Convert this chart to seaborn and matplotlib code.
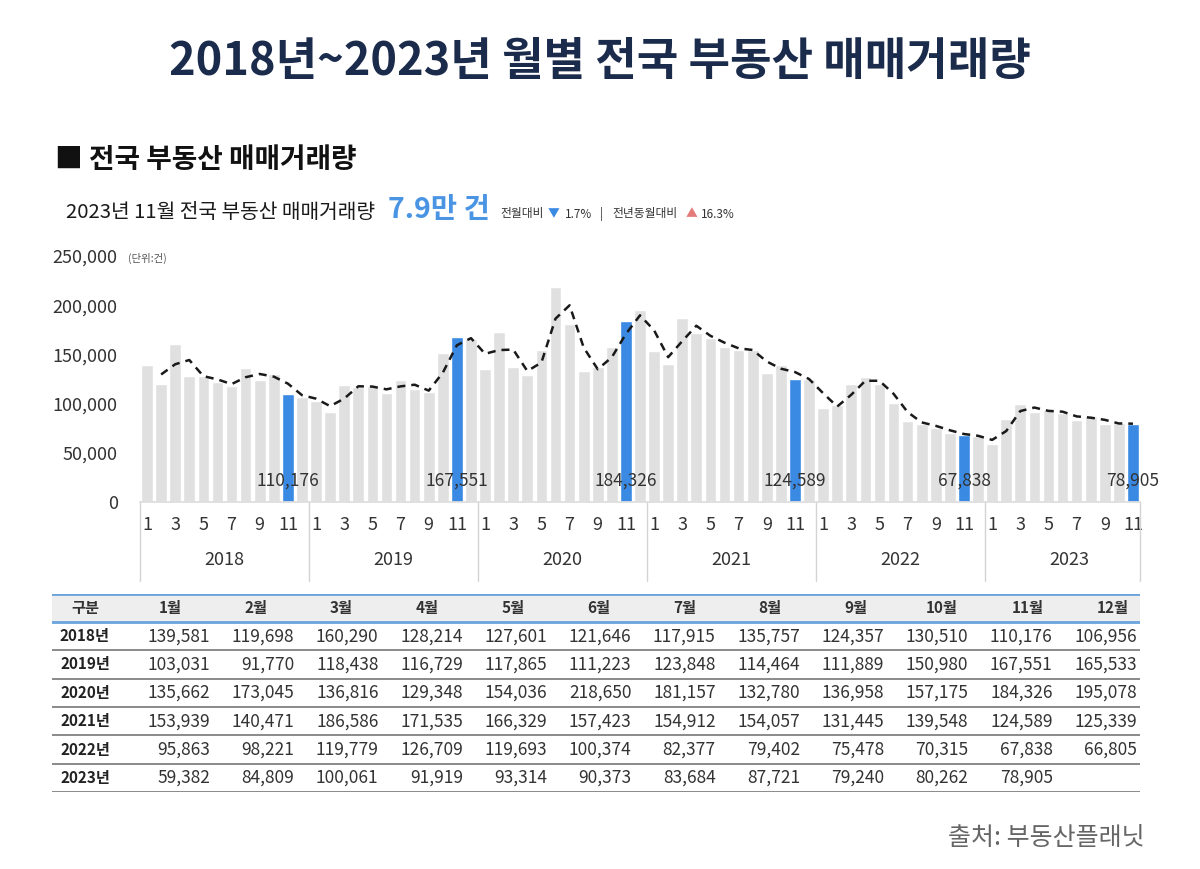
import numpy as np
import pandas as pd
import matplotlib.pyplot as plt
import matplotlib.transforms as mtransforms
import seaborn as sns

# monthly nationwide real-estate transactions (건)
years = [2018, 2019, 2020, 2021, 2022, 2023]
month_labels = [f"{m}월" for m in range(1, 13)]
deals_2018 = [139581, 119698, 160290, 128214, 127601, 121646, 117915, 135757, 124357, 130510, 110176, 106956]
deals_2019 = [103031, 91770, 118438, 116729, 117865, 111223, 123848, 114464, 111889, 150980, 167551, 165533]
deals_2020 = [135662, 173045, 136816, 129348, 154036, 218650, 181157, 132780, 136958, 157175, 184326, 195078]
deals_2021 = [153939, 140471, 186586, 171535, 166329, 157423, 154912, 154057, 131445, 139548, 124589, 125339]
deals_2022 = [95863, 98221, 119779, 126709, 119693, 100374, 82377, 79402, 75478, 70315, 67838, 66805]
deals_2023 = [59382, 84809, 100061, 91919, 93314, 90373, 83684, 87721, 79240, 80262, 78905]
all_years = [deals_2018, deals_2019, deals_2020, deals_2021, deals_2022, deals_2023]

# dashed trend line, in thousands, Feb 2018 .. Nov 2023
trend_k = [129.6, 140.0, 144.3, 127.9, 124.6, 119.8, 126.8, 130.1, 127.4, 120.3, 108.6,
           105.0, 97.4, 105.1, 117.6, 117.3, 114.5, 117.5, 119.2, 113.2, 131.4, 159.3, 166.5,
           150.6, 154.4, 154.9, 133.1, 141.7, 186.3, 199.9, 157.0, 134.9, 147.1, 170.8, 189.7,
           174.5, 147.2, 163.5, 179.1, 168.9, 161.9, 156.2, 154.5, 142.8, 135.5, 132.1, 125.0,
           110.6, 97.0, 109.0, 123.2, 123.2, 110.0, 91.4, 80.9, 77.4, 72.9, 69.1, 67.3,
           63.1, 72.1, 92.4, 96.0, 92.6, 91.8, 87.0, 85.7, 83.5, 79.8, 79.6]

GRAY = "#e0e0e0"
BLUE = "#3a89e3"
NAVY = "#1b2b4b"
TXT = "#333333"

rows = []
for y, vals in zip(years, all_years):
    for m, v in enumerate(vals, start=1):
        rows.append({"year": y, "month": m, "value": v, "kind": "nov" if m == 11 else "other"})
df = pd.DataFrame(rows)
df["idx"] = np.arange(len(df))

sns.set_theme(style="white")
plt.rcParams["font.family"] = ["Noto Sans CJK KR", "DejaVu Sans"]

W, H = 1200, 869
fig = plt.figure(figsize=(W / 100, H / 100), dpi=100)


def fx(x):
    return x / W


def fy(y):
    return 1 - y / H


# titles
fig.text(0.5, fy(62), "2018년~2023년 월별 전국 부동산 매매거래량", ha="center", va="center",
         fontsize=32.5, fontweight="bold", color=NAVY)
fig.text(fx(55), fy(160), "■ 전국 부동산 매매거래량", ha="left", va="center",
         fontsize=20, fontweight="bold", color="#111111")
fig.text(fx(66), fy(212), "2023년 11월 전국 부동산 매매거래량", ha="left", va="center",
         fontsize=14.6, color="#1a1a1a")
fig.text(fx(388), fy(210), "7.9만 건", ha="left", va="center", fontsize=20.5,
         fontweight="bold", color="#4a94e4")
small = dict(ha="left", va="center", fontsize=8.5, color="#333333")
fig.text(fx(500), fy(214), "전월대비", **small)
fig.text(fx(548), fy(214), "▼", **{**small, "color": BLUE})
fig.text(fx(565), fy(214), "1.7%", **small)
fig.text(fx(600), fy(214), "|", **small)
fig.text(fx(612), fy(214), "전년동월대비", **small)
fig.text(fx(686), fy(214), "▲", **{**small, "color": "#e57a7a"})
fig.text(fx(701), fy(214), "16.3%", **small)
fig.text(fx(1145), fy(838), "출처: 부동산플래닛", ha="right", va="center", fontsize=18, color="#666666")
fig.text(fx(128), fy(258), "(단위:건)", ha="left", va="center", fontsize=7.5, color="#555555")

# chart
ax = fig.add_axes([fx(140), fy(502), (1140 - 140) / W, (502 - 256) / H])
sns.barplot(data=df, x="idx", y="value", hue="kind", palette={"other": GRAY, "nov": BLUE},
            dodge=False, width=0.83, saturation=1, legend=False, ax=ax)
sns.lineplot(x=np.arange(1, len(trend_k) + 1), y=np.array(trend_k) * 1000, ax=ax,
             color="#1a1a1a", lw=1.8, linestyle=(0, (3.2, 2.4)))

ax.set_xlim(-0.5, len(df) - 0.5)
ax.set_ylim(0, 250000)
ax.set_yticks(range(0, 250001, 50000))
ax.set_yticklabels([f"{v:,}" for v in range(0, 250001, 50000)])
odd = df[df["month"] % 2 == 1]
ax.set_xticks(odd["idx"])
ax.set_xticklabels(odd["month"].astype(str))
ax.tick_params(axis="x", length=0, pad=10, labelsize=13, labelcolor=TXT)
ax.tick_params(axis="y", length=0, pad=16, labelsize=13, labelcolor=TXT)
ax.set_xlabel("")
ax.set_ylabel("")
for s in ["top", "right", "left"]:
    ax.spines[s].set_visible(False)
ax.spines["bottom"].set_color("#dddddd")

# november value labels
for _, r in df[df["kind"] == "nov"].iterrows():
    ax.text(r["idx"], 22000, f"{r['value']:,}", ha="center", va="center", fontsize=12.5, color=TXT)

# year groups under the axis
trans = mtransforms.blended_transform_factory(ax.transData, ax.transAxes)
for y in years:
    first = df[df["year"] == y]["idx"].min()
    ax.text(first + 5.5, -0.235, str(y), transform=trans, ha="center", va="center",
            fontsize=13, color=TXT)
for b in [k * 12 - 0.5 for k in range(len(years))] + [len(df) - 0.5]:
    ax.plot([b, b], [0, -0.32], transform=trans, color="#d4d4d4", lw=1, clip_on=False)

# table
ax_t = fig.add_axes([fx(52), fy(792), (1140 - 52) / W, (792 - 594) / H])
ax_t.set_xlim(52, 1140)
ax_t.set_ylim(792, 594)
ax_t.axis("off")
ax_t.axhspan(594, 622, color="#eeeeee", lw=0)
ax_t.axhline(594, color="#6aa3dc", lw=2)
ax_t.axhline(622, color="#6aa3dc", lw=2)
row_h = (792 - 622) / len(years)
for k in range(1, len(years) + 1):
    ax_t.axhline(622 + k * row_h, color="#8a8a8a", lw=1.4)

head_x = np.linspace(170, 1113, 12)
val_x = np.linspace(210, 1137, 12)
ax_t.text(85, 608, "구분", ha="center", va="center", fontsize=11, fontweight="bold", color="#333333")
for x, lab in zip(head_x, month_labels):
    ax_t.text(x, 608, lab, ha="center", va="center", fontsize=11, fontweight="bold", color="#333333")
for k, (y, vals) in enumerate(zip(years, all_years)):
    cy = 622 + (k + 0.5) * row_h
    ax_t.text(85, cy, f"{y}년", ha="center", va="center", fontsize=11, fontweight="bold", color="#222222")
    for x, v in zip(val_x, vals):
        ax_t.text(x, cy, f"{v:,}", ha="right", va="center", fontsize=12.5, color="#333333")

fig.savefig("out.png", dpi=100, facecolor="white")
